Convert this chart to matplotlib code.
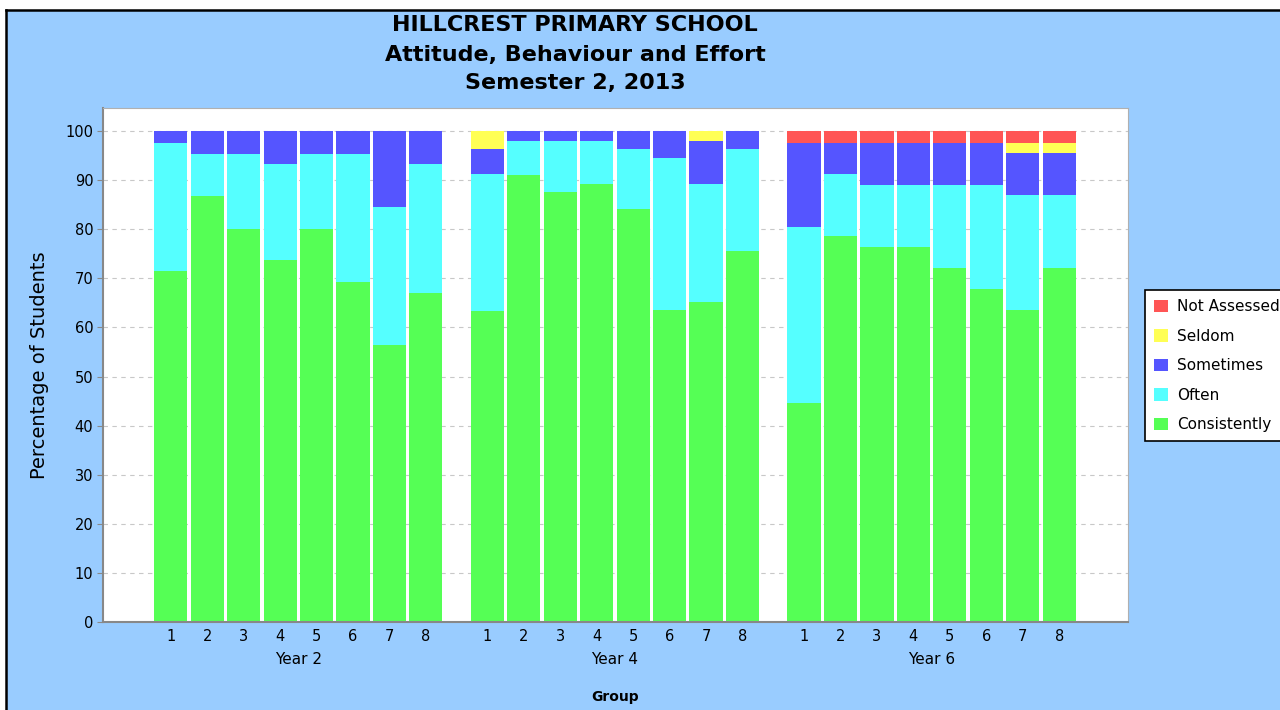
import matplotlib.pyplot as plt
from matplotlib.patches import Rectangle
import numpy as np

years = ["Year 2", "Year 4", "Year 6"]
groups = ["1", "2", "3", "4", "5", "6", "7", "8"]

# percentages per group, Year 2 / Year 4 / Year 6 one after another
consistently = [71.5, 86.7, 80.0, 73.7, 80.0, 69.2, 56.5, 67.1,
                63.3, 91.1, 87.6, 89.3, 84.2, 63.5, 65.2, 75.6,
                44.6, 78.6, 76.3, 76.3, 72.2, 67.8, 63.5, 72.2]
often = [26.1, 8.6, 15.3, 19.5, 15.3, 26.1, 28.0, 26.1,
         27.9, 6.9, 10.4, 8.7, 12.1, 31.0, 24.1, 20.7,
         35.9, 12.6, 12.7, 12.7, 16.8, 21.2, 23.5, 14.8]
sometimes = [2.4, 4.7, 4.7, 6.8, 4.7, 4.7, 15.5, 6.8,
             5.1, 2.0, 2.0, 2.0, 3.7, 5.5, 8.7, 3.7,
             17.0, 6.3, 8.5, 8.5, 8.5, 8.5, 8.6, 8.6]
seldom = [0, 0, 0, 0, 0, 0, 0, 0,
          3.7, 0, 0, 0, 0, 0, 2.0, 0,
          0, 0, 0, 0, 0, 0, 1.9, 1.9]
not_assessed = [0, 0, 0, 0, 0, 0, 0, 0,
                0, 0, 0, 0, 0, 0, 0, 0,
                2.5, 2.5, 2.5, 2.5, 2.5, 2.5, 2.5, 2.5]

series = [("Consistently", consistently, "#55ff55"),
          ("Often", often, "#55ffff"),
          ("Sometimes", sometimes, "#5555ff"),
          ("Seldom", seldom, "#ffff55"),
          ("Not Assessed", not_assessed, "#ff5555")]

bg = "#99ccff"
fig = plt.figure(figsize=(12.8, 7.1), dpi=100)
fig.patch.set_facecolor("white")
# light blue panel with black frame on top/left
fig.patches.append(Rectangle((6/1280, 0), 1, 1 - 10/710, transform=fig.transFigure,
                             facecolor=bg, edgecolor="none", zorder=-2))
fig.add_artist(plt.Line2D([6/1280, 6/1280], [0, 1 - 10/710], color="black", lw=1.8,
                          transform=fig.transFigure))
fig.add_artist(plt.Line2D([6/1280, 1], [1 - 10/710, 1 - 10/710], color="black", lw=1.8,
                          transform=fig.transFigure))

ax = fig.add_axes([103/1280, 1 - 622/710, (1128 - 103)/1280, (622 - 108)/710])
ax.set_facecolor("white")

gap = 8.69
x = np.array([g * gap + i for g in range(len(years)) for i in range(len(groups))])
bottom = np.zeros(len(x))
handles = []
for name, vals, col in series:
    vals = np.array(vals)
    b = ax.bar(x, vals, width=0.91, bottom=bottom, color=col, edgecolor="none",
               label=name, zorder=2)
    handles.append(b)
    bottom += vals

ax.set_xlim(-1.86, 26.27)
ax.set_ylim(0, 104.7)
ax.set_yticks(range(0, 101, 10))
ax.yaxis.grid(True, color="#c8c8c8", linestyle=(0, (4, 4)), linewidth=0.8, zorder=0)
ax.tick_params(axis="y", labelsize=10.5, length=4, color="#888888", pad=3)
ax.set_xticks(x)
ax.set_xticklabels(groups * len(years))
ax.tick_params(axis="x", length=0, labelsize=10.5, pad=5)
for s in ax.spines.values():
    s.set_color("#b0b0b0")
ax.spines["left"].set_color("#888888")
ax.spines["bottom"].set_color("#888888")
ax.spines["left"].set_linewidth(1.5)
ax.spines["bottom"].set_linewidth(1.5)

for g, yr in enumerate(years):
    ax.annotate(yr, xy=(g * gap + 3.5, 0), xycoords=("data", "axes fraction"),
                xytext=(0, -38), textcoords="offset pixels", ha="center", va="center",
                fontsize=11)
ax.annotate("Group", xy=(0.5, 0), xycoords="axes fraction", xytext=(0, -75),
            textcoords="offset pixels", ha="center", va="center", fontsize=10,
            fontweight="bold")
ax.set_ylabel("Percentage of Students", fontsize=14, labelpad=12)

fig.text(575/1280, 1 - 25/710, "HILLCREST PRIMARY SCHOOL", ha="center", va="center",
         fontsize=16, fontweight="bold")
fig.text(575/1280, 1 - 55/710, "Attitude, Behaviour and Effort", ha="center", va="center",
         fontsize=16, fontweight="bold")
fig.text(575/1280, 1 - 83/710, "Semester 2, 2013", ha="center", va="center",
         fontsize=16, fontweight="bold")

leg = fig.legend(handles[::-1], [h.get_label() for h in handles[::-1]],
                 loc="upper left", bbox_to_anchor=(1145/1280, 1 - 290/710),
                 fontsize=11, frameon=True, fancybox=False, edgecolor="black",
                 facecolor="white", framealpha=1,
                 handlelength=0.9, handleheight=0.9, handletextpad=0.6,
                 labelspacing=0.95, borderpad=0.6, borderaxespad=0)
leg.get_frame().set_linewidth(1.2)

fig.savefig("out.png", dpi=100)
